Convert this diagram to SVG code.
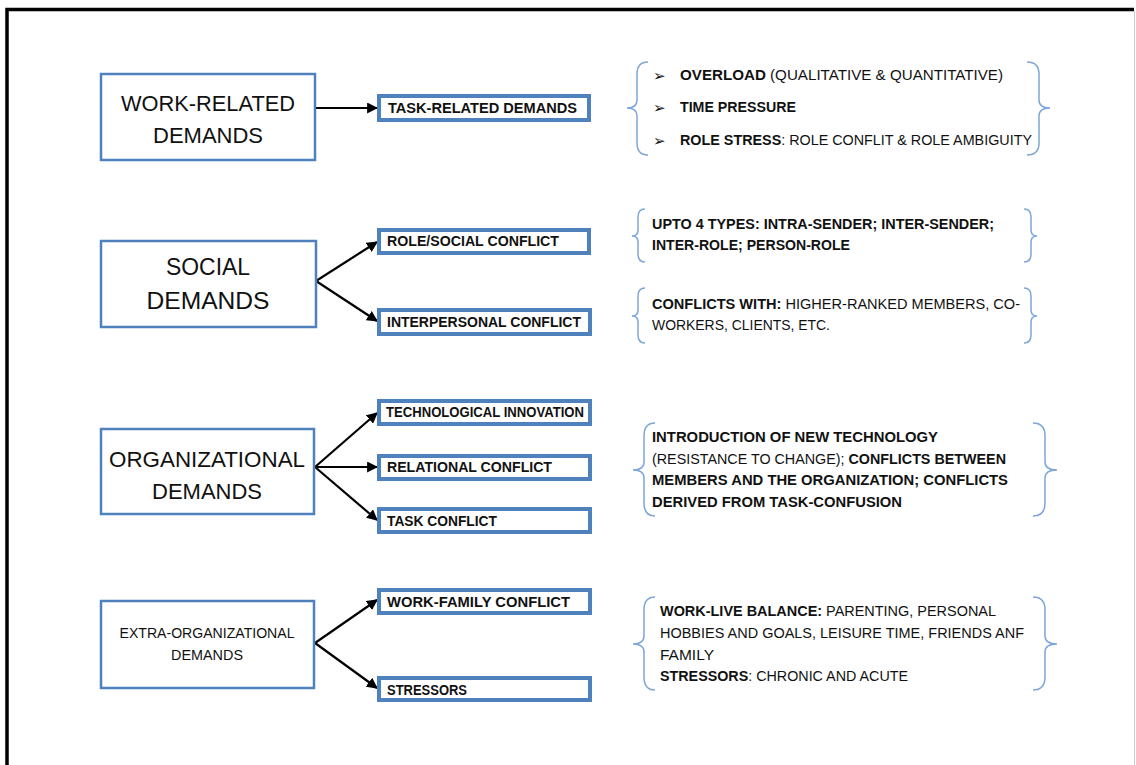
<svg xmlns="http://www.w3.org/2000/svg" width="1136" height="765" viewBox="0 0 1136 765">
  <style>
    .main { fill: #ffffff; stroke: #4f81bd; stroke-width: 2.5; }
    .sub { fill: #ffffff; stroke: #4f81bd; stroke-width: 4; }
    .title { font-family: "Liberation Sans", Arial, sans-serif; fill: #111111; text-anchor: middle; }
    .label { font-family: "Liberation Sans", Arial, sans-serif; font-weight: bold; font-size: 14px; fill: #111111; }
    .note { font-family: "Liberation Sans", Arial, sans-serif; font-size: 14px; fill: #111111; }
    .b { font-weight: bold; }
    .bullet { font-family: "DejaVu Sans", sans-serif; font-size: 15px; fill: #111111; }
    .brace { fill: none; stroke: #7ea6d8; stroke-width: 1.5; }
    .conn { fill: none; stroke: #000000; stroke-width: 2.2; }
  </style>
  <defs>
    <marker id="arrow" viewBox="0 0 10 10" refX="9" refY="5" markerWidth="5" markerHeight="5" orient="auto" markerUnits="strokeWidth">
      <path d="M0,0 L10,5 L0,10 Z" fill="#000000"/>
    </marker>
  </defs>

  <!-- page frame -->
  <rect x="0" y="0" width="1136" height="765" fill="#ffffff"/>
  <path d="M7,765 V9.5 H1134" fill="none" stroke="#000000" stroke-width="3.5"/>
  <line x1="1134.5" y1="11" x2="1134.5" y2="765" stroke="#cccccc" stroke-width="1"/>

  <!-- connectors -->
  <g id="connectors">
    <line class="conn" x1="316" y1="108" x2="377" y2="108" marker-end="url(#arrow)"/>
    <line class="conn" x1="316" y1="281" x2="377" y2="242" marker-end="url(#arrow)"/>
    <line class="conn" x1="316" y1="281" x2="377" y2="321" marker-end="url(#arrow)"/>
    <line class="conn" x1="315" y1="467" x2="377" y2="413" marker-end="url(#arrow)"/>
    <line class="conn" x1="315" y1="467" x2="377" y2="467" marker-end="url(#arrow)"/>
    <line class="conn" x1="315" y1="467" x2="377" y2="520" marker-end="url(#arrow)"/>
    <line class="conn" x1="315" y1="643" x2="377" y2="600" marker-end="url(#arrow)"/>
    <line class="conn" x1="315" y1="643" x2="377" y2="688" marker-end="url(#arrow)"/>
  </g>

  <!-- work-related demands -->
  <g id="work-related">
    <rect class="main" x="101" y="74" width="214" height="86"/>
    <text class="title" x="208" y="111" font-size="22" textLength="174" lengthAdjust="spacingAndGlyphs">WORK-RELATED</text>
    <text class="title" x="208" y="143" font-size="22" textLength="110" lengthAdjust="spacingAndGlyphs">DEMANDS</text>
  </g>
  <g id="task-related">
    <rect class="sub" x="379" y="96" width="210" height="24"/>
    <text class="label" x="388" y="113" textLength="189" lengthAdjust="spacingAndGlyphs">TASK-RELATED DEMANDS</text>
  </g>

  <!-- social demands -->
  <g id="social">
    <rect class="main" x="101" y="241" width="215" height="86"/>
    <text class="title" x="208" y="275" font-size="24" textLength="84" lengthAdjust="spacingAndGlyphs">SOCIAL</text>
    <text class="title" x="208" y="309" font-size="24" textLength="123" lengthAdjust="spacingAndGlyphs">DEMANDS</text>
  </g>
  <g id="role-social">
    <rect class="sub" x="379" y="230" width="210" height="23"/>
    <text class="label" x="387" y="246" textLength="172" lengthAdjust="spacingAndGlyphs">ROLE/SOCIAL CONFLICT</text>
  </g>
  <g id="interpersonal">
    <rect class="sub" x="379" y="310" width="211" height="24"/>
    <text class="label" x="387" y="327" textLength="194" lengthAdjust="spacingAndGlyphs">INTERPERSONAL CONFLICT</text>
  </g>

  <!-- organizational demands -->
  <g id="organizational">
    <rect class="main" x="101" y="429" width="213" height="85"/>
    <text class="title" x="207" y="467" font-size="22" textLength="196" lengthAdjust="spacingAndGlyphs">ORGANIZATIONAL</text>
    <text class="title" x="207" y="499" font-size="22" textLength="110" lengthAdjust="spacingAndGlyphs">DEMANDS</text>
  </g>
  <g id="technological">
    <rect class="sub" x="379" y="401" width="211" height="23"/>
    <text class="label" x="386" y="417" font-size="13" textLength="198" lengthAdjust="spacingAndGlyphs">TECHNOLOGICAL INNOVATION</text>
  </g>
  <g id="relational">
    <rect class="sub" x="379" y="456" width="211" height="23"/>
    <text class="label" x="387" y="472" textLength="165" lengthAdjust="spacingAndGlyphs">RELATIONAL CONFLICT</text>
  </g>
  <g id="task-conflict">
    <rect class="sub" x="379" y="509" width="211" height="23"/>
    <text class="label" x="387" y="526" textLength="110" lengthAdjust="spacingAndGlyphs">TASK CONFLICT</text>
  </g>

  <!-- extra-organizational demands -->
  <g id="extra-organizational">
    <rect class="main" x="101" y="601" width="213" height="87"/>
    <text class="title" x="207" y="638" font-size="15" textLength="175" lengthAdjust="spacingAndGlyphs">EXTRA-ORGANIZATIONAL</text>
    <text class="title" x="207" y="660" font-size="15" textLength="72" lengthAdjust="spacingAndGlyphs">DEMANDS</text>
  </g>
  <g id="work-family">
    <rect class="sub" x="379" y="590" width="211" height="23"/>
    <text class="label" x="387" y="607" textLength="183" lengthAdjust="spacingAndGlyphs">WORK-FAMILY CONFLICT</text>
  </g>
  <g id="stressors">
    <rect class="sub" x="379" y="678" width="211" height="22"/>
    <text class="label" x="387" y="695" textLength="80" lengthAdjust="spacingAndGlyphs">STRESSORS</text>
  </g>

  <!-- notes in braces -->
  <g id="note-work">
    <path class="brace" d="M648,62 Q637,62 637,74 L637,100 Q637,108 627,108 Q637,108 637,116 L637,143 Q637,155 648,155"/>
    <path class="brace" d="M1027,62 Q1039,62 1039,74 L1039,100 Q1039,108 1050,108 Q1039,108 1039,116 L1039,143 Q1039,155 1027,155"/>
    <text class="bullet" x="653" y="81">➢</text>
    <text class="bullet" x="653" y="113">➢</text>
    <text class="bullet" x="653" y="146">➢</text>
    <text class="note" x="680" y="80" textLength="323" lengthAdjust="spacingAndGlyphs"><tspan class="b">OVERLOAD</tspan> (QUALITATIVE &amp; QUANTITATIVE)</text>
    <text class="note b" x="680" y="112" textLength="116" lengthAdjust="spacingAndGlyphs">TIME PRESSURE</text>
    <text class="note" x="680" y="145" textLength="352" lengthAdjust="spacingAndGlyphs"><tspan class="b">ROLE STRESS</tspan>: ROLE CONFLIT &amp; ROLE AMBIGUITY</text>
  </g>

  <g id="note-role">
    <path class="brace" d="M645,209 Q638,209 638,217 L638,230 Q638,236 632,236 Q638,236 638,242 L638,254 Q638,262 645,262"/>
    <path class="brace" d="M1024,209 Q1031,209 1031,217 L1031,230 Q1031,236 1037,236 Q1031,236 1031,242 L1031,254 Q1031,262 1024,262"/>
    <text class="note b" x="652" y="229" textLength="342" lengthAdjust="spacingAndGlyphs">UPTO 4 TYPES: INTRA-SENDER; INTER-SENDER;</text>
    <text class="note b" x="652" y="250" textLength="198" lengthAdjust="spacingAndGlyphs">INTER-ROLE; PERSON-ROLE</text>
  </g>

  <g id="note-interpersonal">
    <path class="brace" d="M645,288 Q638,288 638,296 L638,310 Q638,316 632,316 Q638,316 638,322 L638,335 Q638,343 645,343"/>
    <path class="brace" d="M1024,288 Q1031,288 1031,296 L1031,310 Q1031,316 1037,316 Q1031,316 1031,322 L1031,335 Q1031,343 1024,343"/>
    <text class="note" x="652" y="309" textLength="368" lengthAdjust="spacingAndGlyphs"><tspan class="b">CONFLICTS WITH:</tspan> HIGHER-RANKED MEMBERS, CO-</text>
    <text class="note" x="652" y="330" textLength="178" lengthAdjust="spacingAndGlyphs">WORKERS, CLIENTS, ETC.</text>
  </g>

  <g id="note-organizational">
    <path class="brace" d="M655,423 Q644,423 644,436 L644,462 Q644,470 633,470 Q644,470 644,478 L644,503 Q644,516 655,516"/>
    <path class="brace" d="M1033,423 Q1045,423 1045,436 L1045,462 Q1045,470 1057,470 Q1045,470 1045,478 L1045,503 Q1045,516 1033,516"/>
    <text class="note b" x="652" y="442" textLength="286" lengthAdjust="spacingAndGlyphs">INTRODUCTION OF NEW TECHNOLOGY</text>
    <text class="note" x="652" y="464" textLength="354" lengthAdjust="spacingAndGlyphs">(RESISTANCE TO CHANGE); <tspan class="b">CONFLICTS BETWEEN</tspan></text>
    <text class="note b" x="652" y="485" textLength="356" lengthAdjust="spacingAndGlyphs">MEMBERS AND THE ORGANIZATION; CONFLICTS</text>
    <text class="note b" x="652" y="507" textLength="250" lengthAdjust="spacingAndGlyphs">DERIVED FROM TASK-CONFUSION</text>
  </g>

  <g id="note-extra">
    <path class="brace" d="M655,597 Q644,597 644,610 L644,636 Q644,644 633,644 Q644,644 644,652 L644,677 Q644,690 655,690"/>
    <path class="brace" d="M1033,597 Q1045,597 1045,610 L1045,636 Q1045,644 1057,644 Q1045,644 1045,652 L1045,677 Q1045,690 1033,690"/>
    <text class="note" x="660" y="616" textLength="336" lengthAdjust="spacingAndGlyphs"><tspan class="b">WORK-LIVE BALANCE:</tspan> PARENTING, PERSONAL</text>
    <text class="note" x="660" y="638" textLength="364" lengthAdjust="spacingAndGlyphs">HOBBIES AND GOALS, LEISURE TIME, FRIENDS ANF</text>
    <text class="note" x="660" y="660" textLength="54" lengthAdjust="spacingAndGlyphs">FAMILY</text>
    <text class="note" x="660" y="681" textLength="248" lengthAdjust="spacingAndGlyphs"><tspan class="b">STRESSORS</tspan>: CHRONIC AND ACUTE</text>
  </g>
</svg>
